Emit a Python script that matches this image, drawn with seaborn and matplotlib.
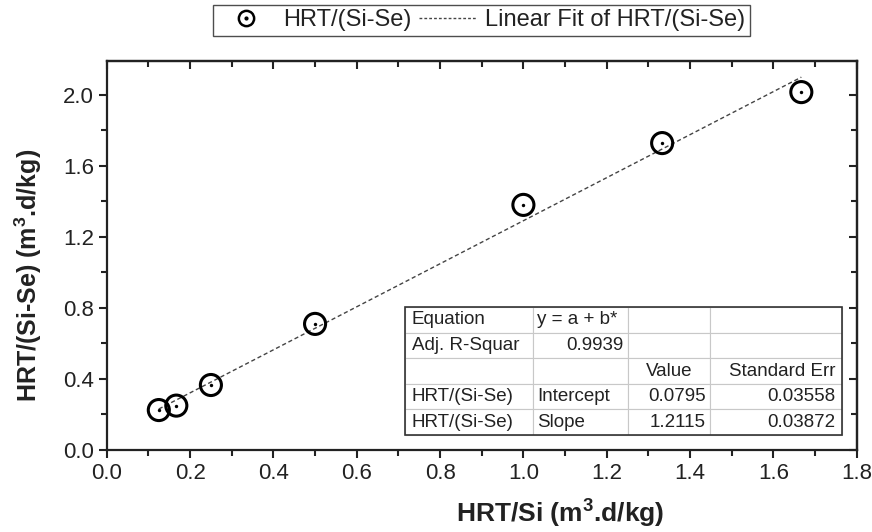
import numpy as np
import pandas as pd
import matplotlib
matplotlib.use("Agg")
import matplotlib.pyplot as plt
import seaborn as sns
from matplotlib.legend_handler import HandlerTuple
from matplotlib.ticker import MultipleLocator
from matplotlib.patches import Rectangle
from matplotlib.lines import Line2D

# ---- data ----
x_vals = [0.125, 0.167, 0.25, 0.5, 1.0, 1.333, 1.667]
y_vals = [0.225, 0.25, 0.366, 0.71, 1.38, 1.728, 2.015]
fit_intercept = 0.0795
fit_slope = 1.2115
series_label = "HRT/(Si-Se)"
fit_label = "Linear Fit of HRT/(Si-Se)"
x_ticks = [0.0, 0.2, 0.4, 0.6, 0.8, 1.0, 1.2, 1.4, 1.6, 1.8]
y_ticks = [0.0, 0.4, 0.8, 1.2, 1.6, 2.0]
table_rows = [
    ["Equation", "y = a + b*", "", ""],
    ["Adj. R-Squar", "0.9939", "", ""],
    ["", "", "Value", "Standard Err"],
    ["HRT/(Si-Se)", "Intercept", "0.0795", "0.03558"],
    ["HRT/(Si-Se)", "Slope", "1.2115", "0.03872"],
]

sns.set_theme(style="white")
plt.rcParams['font.family'] = ['Liberation Sans', 'DejaVu Sans']

df = pd.DataFrame({"x": x_vals, "y": y_vals})
fit_x = np.array([min(x_vals), max(x_vals)])
fit_df = pd.DataFrame({"x": fit_x, "y": fit_intercept + fit_slope * fit_x})

fig = plt.figure(figsize=(8.72, 5.32), dpi=100)
ax = fig.add_axes([0.1224, 0.1541, 0.8601, 0.7312])

sns.lineplot(data=fit_df, x="x", y="y", ax=ax, color="#444444", lw=1.0,
             linestyle=(0, (3, 2)), zorder=2)
sns.scatterplot(data=df, x="x", y="y", ax=ax, marker="o", s=230,
                facecolor="none", edgecolor="black", linewidth=2.2, zorder=3)
sns.scatterplot(data=df, x="x", y="y", ax=ax, marker="o", s=6,
                color="black", edgecolor="black", linewidth=0, zorder=4)

ax.set_xlim(0, 1.8)
ax.set_ylim(0, 2.19)
ax.set_xticks(x_ticks)
ax.set_yticks(y_ticks)
ax.set_xticklabels([f"{v:.1f}" for v in x_ticks])
ax.set_yticklabels([f"{v:.1f}" for v in y_ticks])
ax.xaxis.set_minor_locator(MultipleLocator(0.1))
ax.yaxis.set_minor_locator(MultipleLocator(0.2))
ax.tick_params(axis="both", which="major", direction="out", length=6, width=1.5,
               labelsize=16, color="#222222", labelcolor="#222222", pad=3,
               bottom=True, left=True)
ax.tick_params(axis="both", which="minor", direction="out", length=4, width=1.5,
               color="#222222", bottom=True, left=True)
for sp in ax.spines.values():
    sp.set_linewidth(1.6)
    sp.set_color("#222222")

# inward ticks top and right
secx = ax.secondary_xaxis("top")
secx.set_xticks(x_ticks)
secx.xaxis.set_minor_locator(MultipleLocator(0.1))
secx.tick_params(which="major", direction="in", length=6, width=1.5, labeltop=False, color="#222222")
secx.tick_params(which="minor", direction="in", length=4, width=1.5, color="#222222")
secx.spines["top"].set_linewidth(1.6)
secy = ax.secondary_yaxis("right")
secy.set_yticks(y_ticks)
secy.yaxis.set_minor_locator(MultipleLocator(0.2))
secy.tick_params(which="major", direction="in", length=6, width=1.5, labelright=False, color="#222222")
secy.tick_params(which="minor", direction="in", length=4, width=1.5, color="#222222")
secy.spines["right"].set_linewidth(1.6)

ax.set_xlabel("HRT/Si (m$^\\mathregular{3}$.d/kg)", fontsize=19, fontweight="bold",
              color="#222222")
ax.xaxis.set_label_coords(0.605, -0.118)
ax.set_ylabel("HRT/(Si-Se) (m$^\\mathregular{3}$.d/kg)", fontsize=18, fontweight="bold",
              color="#222222")
ax.yaxis.set_label_coords(-0.084, 0.45)

# legend
h_circle = Line2D([], [], marker="o", ls="none", markersize=11, markerfacecolor="none",
                  markeredgecolor="black", markeredgewidth=1.8)
h_dot = Line2D([], [], marker="o", ls="none", markersize=2, color="black")
h_line = Line2D([], [], color="#444444", lw=1.0, linestyle=(0, (2, 1.5)))
leg = fig.legend([(h_circle, h_dot), h_line], [series_label, fit_label],
                 handler_map={tuple: HandlerTuple(ndivide=1, pad=0)},
                 loc="center", bbox_to_anchor=(0.552, 0.9615), ncol=2,
                 frameon=True, fancybox=False, fontsize=17, handlelength=2.4,
                 columnspacing=0.3, handletextpad=0.4, borderpad=0.2,
                 edgecolor="#222222")
leg.get_frame().set_linewidth(1.0)
for t in leg.get_texts():
    t.set_color("#222222")

# table
col_w = [0.1697, 0.1272, 0.1088, 0.1763]
tbl = ax.table(cellText=table_rows, colWidths=col_w,
               bbox=[0.398, 0.0386, 0.582, 0.329], zorder=5)
tbl.auto_set_font_size(False)
tbl.set_fontsize(13.5)
aligns = {
    (0, 1): "left", (1, 1): "right", (2, 2): "center", (2, 3): "right",
    (3, 1): "left", (4, 1): "left", (3, 2): "right", (4, 2): "right",
    (3, 3): "right", (4, 3): "right",
}
for (r, c), cell in tbl.get_celld().items():
    cell.set_edgecolor("#c8c8c8")
    cell.set_linewidth(0.8)
    cell.set_facecolor("white")
    cell.get_text().set_color("#222222")
    a = aligns.get((r, c), "left")
    cell._loc = a
    cell.get_text().set_horizontalalignment(a)
    cell.PAD = 0.05
ax.add_patch(Rectangle((0.398, 0.0386), 0.582, 0.329, transform=ax.transAxes,
                       fill=False, edgecolor="#333333", lw=1.2, zorder=6))

fig.savefig("out.png", dpi=100)
